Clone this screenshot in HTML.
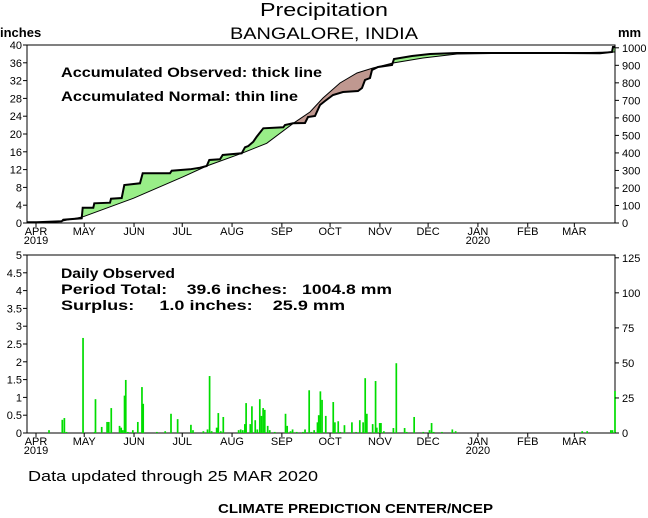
<!DOCTYPE html>
<html><head><meta charset="utf-8"><style>
body{margin:0;background:#fff;}
svg{display:block;font-family:"Liberation Sans",sans-serif;}
.t{font-size:11px;fill:#000}
.b{font-size:14px;font-weight:bold;fill:#000}
</style></head><body>
<svg id="s" width="648" height="518" viewBox="0 0 648 518" xmlns="http://www.w3.org/2000/svg">
<rect width="648" height="518" fill="#fff"/>
<text x="260" y="16" font-size="18" textLength="128" lengthAdjust="spacingAndGlyphs">Precipitation</text>
<text x="230" y="39" font-size="17" textLength="188" lengthAdjust="spacingAndGlyphs">BANGALORE, INDIA</text>
<text x="0" y="37" font-size="13" font-weight="bold">inches</text>
<text x="618" y="37" font-size="13" font-weight="bold">mm</text>
<defs>
<clipPath id="above"><polygon id="ca" points=""/></clipPath>
<clipPath id="below"><polygon id="cb" points=""/></clipPath>
</defs>
<g id="fills"></g>
<polyline id="norm" fill="none" stroke="#000" stroke-width="1"/>
<polyline id="obs" fill="none" stroke="#000" stroke-width="2"/>
<rect x="27" y="45" width="588" height="178" fill="none" stroke="#000"/>
<rect x="27" y="255" width="588" height="178" fill="none" stroke="#000"/>
<text class="b" x="61" y="77" textLength="261" lengthAdjust="spacingAndGlyphs">Accumulated Observed: thick line</text>
<text class="b" x="61" y="101" textLength="237" lengthAdjust="spacingAndGlyphs">Accumulated Normal: thin line</text>
<text class="b" x="61" y="278" textLength="114" lengthAdjust="spacingAndGlyphs">Daily Observed</text>
<text class="b" x="61" y="294" textLength="331" lengthAdjust="spacingAndGlyphs" xml:space="preserve">Period Total:    39.6 inches:   1004.8 mm</text>
<text class="b" x="61" y="310" textLength="284" lengthAdjust="spacingAndGlyphs" xml:space="preserve">Surplus:     1.0 inches:    25.9 mm</text>
<g id="bars" fill="#00dd00"></g>
<g id="ax"></g>
<text x="28" y="481" font-size="15" textLength="290" lengthAdjust="spacingAndGlyphs">Data updated through 25 MAR 2020</text>
<text x="218" y="513" font-size="13" font-weight="bold" textLength="275" lengthAdjust="spacingAndGlyphs">CLIMATE PREDICTION CENTER/NCEP</text>
</svg>
<script>
var NS="http://www.w3.org/2000/svg",s=document.getElementById('s');
function el(t,a,p,txt){var e=document.createElementNS(NS,t);for(var k in a)e.setAttribute(k,a[k]);if(txt!=null)e.textContent=txt;(p||s).appendChild(e);return e;}
var obs=[[27,222.3],[36.7,222.3],[61.7,221.3],[63.3,219.7],[81.7,218.3],[82.7,207.7],[93.3,207.7],[94.3,203.3],[110,202.7],[111,198.7],[121.7,198],[124.3,185],[140,183.3],[142.7,173.3],[170,173.3],[171.7,170.7],[190,169.3],[200,167.7],[206.7,166],[209.3,160],[220,159.3],[222.7,155],[241.7,153.3],[245,147.3],[248.3,146],[253.3,141.7],[256.7,136.7],[263.3,128.3],[283.3,127.3],[285,125],[293,123.3],[305,123],[308,117],[315,116],[320,105],[325,101],[333,95],[343,92],[358,91],[362,88],[365,80],[370,78],[372,70],[378,67],[392,65],[394,59],[412,56],[430,54],[457,53],[563,53],[600,53.3],[612,52],[613,47],[615,47]];
var nor=[[27,222.3],[36.7,222.3],[60,221.5],[83.3,216.7],[133.3,198.3],[183.3,176.7],[206.7,166],[241.7,153.3],[266.7,143.3],[293.3,123.3],[310,112],[323,98],[340,83],[357,73],[373,68],[393,63],[423,58],[457,54],[523,53],[590,52.5],[615,52]];
function ps(a){return a.map(function(p){return p[0]+','+p[1]}).join(' ');}
document.getElementById('obs').setAttribute('points',ps(obs));
document.getElementById('norm').setAttribute('points',ps(nor));
document.getElementById('ca').setAttribute('points',ps(nor)+' 615,0 27,0');
document.getElementById('cb').setAttribute('points',ps(nor)+' 615,300 27,300');
var poly=ps(obs)+' '+ps(nor.slice().reverse());
var f=document.getElementById('fills');
el('polygon',{points:poly,fill:'#99ee88','clip-path':'url(#above)'},f);
el('polygon',{points:poly,fill:'#c09890','clip-path':'url(#below)'},f);
var b=[[118,0.08],[150,0.37],[155,0.42],[160,0.03],[200,2.67],[228,0.03],[230,0.95],[245,0.17],[258,0.31],[262,0.31],[268,0.7],[288,0.2],[292,0.15],[296,0.08],[300,1.05],[303,1.49],[308,0.03],[320,0.08],[332,0.31],[342,1.29],[345,0.82],[378,0.03],[398,0.05],[412,0.54],[428,0.39],[460,0.23],[465,0.08],[490,0.05],[500,0.1],[505,1.6],[510,0.05],[522,0.15],[526,0.56],[532,0.05],[538,0.45],[575,0.08],[580,0.1],[585,0.08],[590,0.25],[593,0.84],[603,0.25],[607,0.75],[615,0.36],[620,0.1],[626,0.95],[630,0.48],[634,0.7],[638,0.65],[645,0.2],[650,0.08],[662,0.03],[688,0.54],[692,0.2],[700,0.05],[705,0.1],[715,0.03],[730,0.03],[735,0.1],[745,1.2],[750,0.03],[757,0.08],[765,0.3],[768,0.5],[772,1.17],[776,0.93],[785,0.48],[803,0.87],[807,0.3],[815,0.33],[820,0.03],[830,0.22],[848,0.3],[858,0.03],[867,0.36],[875,0.3],[880,1.54],[884,0.54],[898,0.25],[905,1.46],[908,0.15],[915,0.28],[918,0.28],[925,0.05],[948,0.14],[955,1.96],[975,0.14],[980,0.03],[998,0.45],[1020,0.03],[1035,0.08],[1040,0.28],[1045,0.03],[1065,0.03],[1090,0.1],[1098,0.05],[1403,0.05],[1415,0.05],[1472,0.08],[1476,0.08],[1482,1.18]];
var g=document.getElementById('bars');
b.forEach(function(d){var h=d[1]*35.6;el('rect',{x:d[0]/2.41-0.8,y:433-h,width:1.7,height:h},g);});
var ax=document.getElementById('ax');
for(var i=0;i<=40;i+=4){var y=223-i*4.45;el('line',{x1:23,x2:27,y1:y,y2:y,stroke:'#000'},ax);el('text',{x:22,y:y+4,'text-anchor':'end','class':'t'},ax,i);}
for(var m=0;m<=1000;m+=100){var y=223-m/25.4*4.45;el('line',{x1:615,x2:619,y1:y,y2:y,stroke:'#000'},ax);el('text',{x:622,y:y+4,'class':'t'},ax,m);}
for(var i=0;i<=10;i++){var v=i*0.5,y=433-v*35.6;el('line',{x1:23,x2:27,y1:y,y2:y,stroke:'#000'},ax);el('text',{x:22,y:y+4,'text-anchor':'end','class':'t'},ax,v);}
for(var m=0;m<=125;m+=25){var y=433-m/25.4*35.6;el('line',{x1:615,x2:619,y1:y,y2:y,stroke:'#000'},ax);el('text',{x:622,y:y+4,'class':'t'},ax,m);}
var mo=['APR','MAY','JUN','JUL','AUG','SEP','OCT','NOV','DEC','JAN','FEB','MAR'],days=[0,30,61,91,122,153,183,214,244,275,306,335];
for(var k=0;k<12;k++){var x=36+1.607*days[k];
[[223,235],[433,445]].forEach(function(p){el('line',{x1:x,x2:x,y1:p[0],y2:p[0]+4,stroke:'#000'},ax);el('text',{x:x,y:p[1],'text-anchor':'middle','class':'t','font-size':'10'},ax,mo[k]);});
if(k==0||k==9){el('text',{x:x,y:244,'text-anchor':'middle','class':'t','font-size':'10'},ax,k?'2020':'2019');el('text',{x:x,y:454,'text-anchor':'middle','class':'t','font-size':'10'},ax,k?'2020':'2019');}}
</script>
</body></html>
